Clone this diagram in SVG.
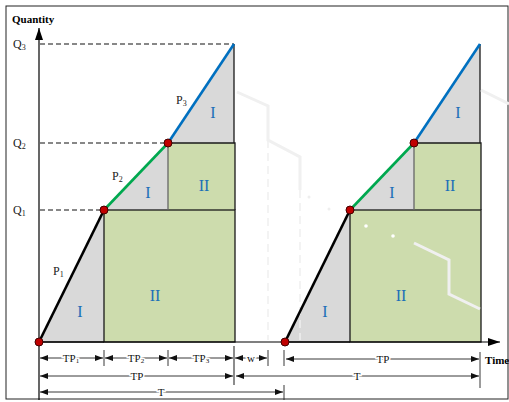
<svg xmlns="http://www.w3.org/2000/svg" width="509" height="402" viewBox="0 0 509 402">
<style>
.t{font-family:"Liberation Serif","Times New Roman",serif;fill:#222}
.b{font-weight:bold;font-size:11px;fill:#000}
.q{font-size:12px}
.r{font-size:16px;fill:#1a6fb8}
.d{font-size:11px;stroke:#fff;stroke-width:3;paint-order:stroke;text-anchor:middle;fill:#111}
.g{fill:#d9d9d9}
.gr{fill:#cddcad}
.ol{fill:none;stroke:#1a1a1a;stroke-width:1.3}
.dash{stroke:#111;stroke-width:1.1;stroke-dasharray:5 3;fill:none}
.dim{stroke:#222;stroke-width:0.9;fill:none}
.wm{stroke:#f0f0f0;stroke-width:3;fill:none}
.pt{fill:#c00000;stroke:#400;stroke-width:1}
</style>
<defs>
<marker id="ae" markerWidth="8" markerHeight="6" refX="8" refY="3" orient="auto" markerUnits="userSpaceOnUse"><path d="M0,0 L8,3 L0,6 Z" fill="#111"/></marker>
<marker id="as" markerWidth="8" markerHeight="6" refX="0" refY="3" orient="auto" markerUnits="userSpaceOnUse"><path d="M8,0 L0,3 L8,6 Z" fill="#111"/></marker>
<marker id="ax" markerWidth="12" markerHeight="8" refX="12" refY="4" orient="auto" markerUnits="userSpaceOnUse"><path d="M0,0 L12,4 L0,8 Z" fill="#000"/></marker>
</defs>
<rect x="6" y="6" width="502" height="393" fill="#fff" stroke="#222" stroke-width="1"/>

<g id="left-cycle">
<polygon class="g" points="39,342 104,210 104,342"/>
<polygon class="g" points="104,210 168,143 168,210"/>
<polygon class="g" points="168,143 234,44 234,143"/>
<rect class="gr" x="104" y="210" width="131" height="132"/>
<rect class="gr" x="168" y="143" width="67" height="67"/>
<rect class="ol" x="104" y="210" width="131" height="132"/>
<path class="ol" d="M168,143 H235 V210 M234,44 V143 M39,342 H104"/>
<line x1="168" y1="143" x2="168" y2="210" stroke="#666" stroke-width="1.3"/>
</g>
<g id="right-cycle">
<polygon class="g" points="285,342 350,210 350,342"/>
<polygon class="g" points="350,210 414,143 414,210"/>
<polygon class="g" points="414,143 480,44 480,143"/>
<rect class="gr" x="350" y="210" width="131" height="132"/>
<rect class="gr" x="414" y="143" width="67" height="67"/>
<rect class="ol" x="350" y="210" width="131" height="132"/>
<path class="ol" d="M414,143 H481 V210 M480,44 V143 M285,342 H350"/>
<line x1="414" y1="143" x2="414" y2="210" stroke="#666" stroke-width="1.3"/>
</g>

<g id="watermark">
<polyline class="wm" points="237,92 268,106 268,140 300,157 300,190"/>
<polyline class="wm" points="414,243 449,260 449,294 480,309"/>
<polyline class="wm" points="481,90 509,104"/>
<line x1="268" y1="140" x2="268" y2="340" stroke="#f0f0f0" stroke-width="1.5" stroke-dasharray="8 5"/>
<line x1="300" y1="190" x2="300" y2="340" stroke="#f0f0f0" stroke-width="1.5" stroke-dasharray="8 5"/>
<circle cx="309" cy="197" r="1.5" fill="#eee"/>
<circle cx="329" cy="209" r="1.5" fill="#eee"/>
<circle cx="366" cy="226" r="1.8" fill="#fff"/>
<circle cx="393" cy="236" r="1.8" fill="#fff"/>
</g>

<g id="connectors">
<line x1="39" y1="400" x2="39" y2="28" stroke="#000" stroke-width="1.2" marker-end="url(#ax)"/>
<line x1="39" y1="342" x2="500" y2="342" stroke="#000" stroke-width="1.2" marker-end="url(#ax)"/>
<line class="dash" x1="40" y1="44" x2="234" y2="44"/>
<line class="dash" x1="40" y1="143" x2="168" y2="143"/>
<line class="dash" x1="40" y1="210" x2="104" y2="210"/>
<line x1="39" y1="342" x2="104" y2="210" stroke="#000" stroke-width="2.6"/>
<line x1="104" y1="210" x2="168" y2="143" stroke="#00a84f" stroke-width="2.6"/>
<line x1="168" y1="143" x2="234" y2="44" stroke="#0070c0" stroke-width="2.6"/>
<line x1="285" y1="342" x2="350" y2="210" stroke="#000" stroke-width="2.6"/>
<line x1="350" y1="210" x2="414" y2="143" stroke="#00a84f" stroke-width="2.6"/>
<line x1="414" y1="143" x2="480" y2="44" stroke="#0070c0" stroke-width="2.6"/>
<circle class="pt" cx="39" cy="342" r="4"/>
<circle class="pt" cx="104" cy="210" r="4"/>
<circle class="pt" cx="168" cy="143" r="4"/>
<circle class="pt" cx="285" cy="342" r="4"/>
<circle class="pt" cx="350" cy="210" r="4"/>
<circle class="pt" cx="414" cy="143" r="4"/>
<path class="dim" d="M104,350 V366 M168,350 V366 M268,350 V366 M284,350 V366 M284,385 V400 M480,352 V388"/>
<line x1="234" y1="346" x2="234" y2="385" stroke="#666" stroke-width="1.5"/>
<line class="dim" x1="40" y1="358" x2="103" y2="358" marker-start="url(#as)" marker-end="url(#ae)"/>
<line class="dim" x1="105" y1="358" x2="167" y2="358" marker-start="url(#as)" marker-end="url(#ae)"/>
<line class="dim" x1="169" y1="358" x2="233" y2="358" marker-start="url(#as)" marker-end="url(#ae)"/>
<line class="dim" x1="235" y1="358" x2="267" y2="358" marker-start="url(#as)" marker-end="url(#ae)"/>
<line class="dim" x1="286" y1="359" x2="479" y2="359" marker-start="url(#as)" marker-end="url(#ae)"/>
<line class="dim" x1="40" y1="376" x2="233" y2="376" marker-start="url(#as)" marker-end="url(#ae)"/>
<line class="dim" x1="236" y1="376" x2="479" y2="376" marker-start="url(#as)" marker-end="url(#ae)"/>
<line class="dim" x1="40" y1="392" x2="283" y2="392" marker-start="url(#as)" marker-end="url(#ae)"/>
</g>

<g id="labels">
<text class="t b" x="12" y="23">Quantity</text>
<text class="t b" x="485" y="364">Time</text>
<text class="t q" x="13" y="48">Q<tspan font-size="8" dy="2">3</tspan></text>
<text class="t q" x="13" y="147">Q<tspan font-size="8" dy="2">2</tspan></text>
<text class="t q" x="13" y="214">Q<tspan font-size="8" dy="2">1</tspan></text>
<text class="t q" x="53" y="275">P<tspan font-size="8" dy="2">1</tspan></text>
<text class="t q" x="112" y="180">P<tspan font-size="8" dy="2">2</tspan></text>
<text class="t q" x="176" y="104">P<tspan font-size="8" dy="2">3</tspan></text>
<text class="t r" x="80" y="317" text-anchor="middle">I</text>
<text class="t r" x="155" y="301" text-anchor="middle">II</text>
<text class="t r" x="148" y="198" text-anchor="middle">I</text>
<text class="t r" x="204" y="191" text-anchor="middle">II</text>
<text class="t r" x="213" y="118" text-anchor="middle">I</text>
<text class="t r" x="325" y="317" text-anchor="middle">I</text>
<text class="t r" x="401" y="301" text-anchor="middle">II</text>
<text class="t r" x="392" y="198" text-anchor="middle">I</text>
<text class="t r" x="450" y="191" text-anchor="middle">II</text>
<text class="t r" x="458" y="118" text-anchor="middle">I</text>
<text class="t d" x="71" y="362">TP<tspan font-size="7" dy="1">1</tspan></text>
<text class="t d" x="136" y="362">TP<tspan font-size="7" dy="1">2</tspan></text>
<text class="t d" x="201" y="362">TP<tspan font-size="7" dy="1">3</tspan></text>
<text class="t d" x="251" y="362">w</text>
<text class="t d" x="383" y="363">TP</text>
<text class="t d" x="137" y="380">TP</text>
<text class="t d" x="357" y="380">T</text>
<text class="t d" x="161" y="396">T</text>
</g>
</svg>
